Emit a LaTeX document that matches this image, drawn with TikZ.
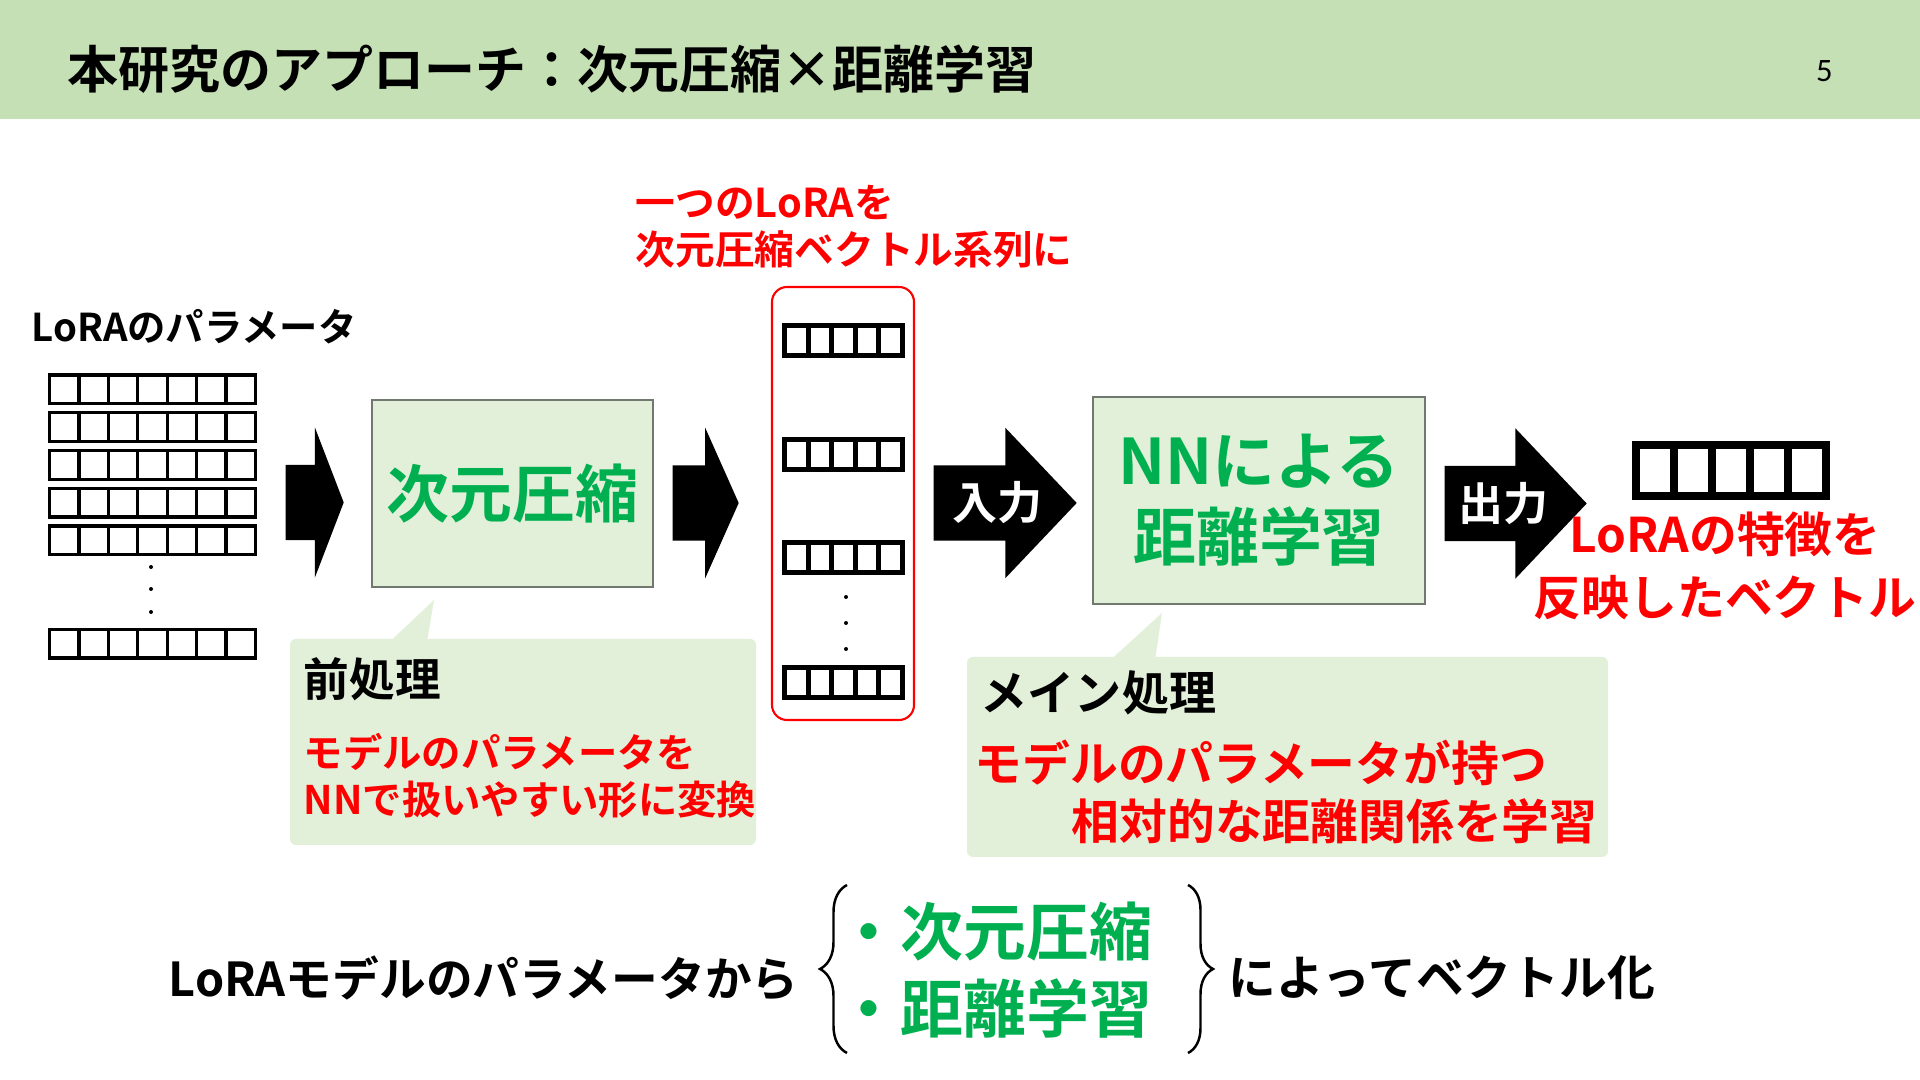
\documentclass[tikz,border=0pt]{standalone}
\usepackage{fontspec}
\setmainfont{Noto Sans CJK JP}[BoldFont={Noto Sans CJK JP Bold}]
\newfontfamily\pagefont{Carlito}
\usetikzlibrary{shapes.arrows,decorations.pathreplacing}
\definecolor{hdrgreen}{HTML}{C5E0B4}
\definecolor{palegreen}{HTML}{E2F0D9}
\definecolor{boxgray}{RGB}{112,120,112}
\definecolor{keygreen}{HTML}{00B050}
\definecolor{notered}{HTML}{FF0000}

\begin{document}
\begin{tikzpicture}[
    txt/.style={inner sep=0pt, anchor=west},
    procbox/.style={draw=boxgray, line width=0.6pt, fill=palegreen, text=keygreen, align=center,
      font=\bfseries\fontsize{17.9pt}{21.6pt}\selectfont},
    notebox/.style={fill=palegreen, rounded corners=0.06cm, inner sep=0pt},
    fatarrow/.style={single arrow, fill=black, inner xsep=0pt, inner ysep=0.37cm, anchor=tail,
      single arrow head extend=0.375cm},
    arrowtext/.style={inner sep=0pt, text=white, font=\bfseries\fontsize{12.8pt}{15pt}\selectfont},
    bigcell/.style={line width=0.95pt},
    midcell/.style={line width=1.4pt},
    outcell/.style={line width=2.3pt},
    curly/.style={decorate, line width=0.7pt}
  ]
  \useasboundingbox (0,0) rectangle (19.2,10.8);
  \fill[white] (0,0) rectangle (19.2,10.8);

  \fill[hdrgreen] (0,9.61) rectangle (19.2,10.8);
  \node[txt, font=\bfseries\fontsize{14.5pt}{17pt}\selectfont] (title) at (0.67,10.105) {本研究のアプローチ：次元圧縮×距離学習};
  \node[inner sep=0pt, font=\pagefont\fontsize{9.3pt}{11pt}\selectfont] (page) at (18.245,10.085) {5};

  \node[txt, font=\bfseries\fontsize{10.9pt}{13pt}\selectfont] (params) at (0.31,7.53) {LoRAのパラメータ};
  \foreach \yt in {7.05,6.672,6.295,5.918,5.54,4.506}
    \foreach \c in {0,...,6}
      \draw[bigcell] (0.497+\c*0.2937,\yt) rectangle ++(0.2937,-0.287);
  \foreach \yd in {5.13,4.91,4.68}
    \fill (1.51,\yd) circle (0.02);

  \node[fatarrow, single arrow tip angle=138, minimum height=0.58cm] (arrA) at (2.85,5.775) {};
  \node[procbox, minimum width=2.81cm, minimum height=1.87cm] (dimred) at (5.125,5.865) {次元圧縮};
  \node[fatarrow, single arrow tip angle=132, minimum height=0.66cm] (arrB) at (6.72,5.77) {};

  \node[notebox, minimum width=4.66cm, minimum height=2.06cm] (pre) at (5.23,3.38) {};
  \coordinate (preTip) at (4.34,4.80);
  \fill[palegreen] ([xshift=1.02cm,yshift=-0.02cm]pre.north west) -- (preTip)
    -- ([xshift=1.38cm,yshift=-0.02cm]pre.north west) -- cycle;
  \node[txt, font=\bfseries\fontsize{13pt}{15pt}\selectfont] (preHead) at (3.03,4.01) {前処理};
  \node[txt, align=left, text=notered, font=\bfseries\fontsize{11.2pt}{13.4pt}\selectfont] (preText) at (3.03,3.045)
    {モデルのパラメータを\\NNで扱いやすい形に変換};

  \node[txt, align=left, text=notered, font=\bfseries\fontsize{11.3pt}{13.4pt}\selectfont] (seqText) at (6.35,8.535)
    {一つのLoRAを\\次元圧縮ベクトル系列に};
  \draw[notered, line width=0.6pt, rounded corners=0.15cm] (7.72,7.93) rectangle (9.14,3.60);
  \foreach \yt in {7.545,6.405,5.375,4.125}
    \foreach \c in {0,...,4}
      \draw[midcell] (7.845+\c*0.236,\yt) rectangle ++(0.236,-0.30);
  \foreach \yd in {4.83,4.57,4.31}
    \fill (8.46,\yd) circle (0.02);

  \node[fatarrow, single arrow tip angle=93, minimum height=1.43cm] (arrIn) at (9.33,5.77) {};
  \node[arrowtext] (inLabel) at (9.97,5.77) {入力};
  \node[procbox, minimum width=3.32cm, minimum height=2.07cm] (metric) at (12.59,5.795) {NNによる\\距離学習};
  \node[fatarrow, single arrow tip angle=93, minimum height=1.42cm] (arrOut) at (14.44,5.765) {};
  \node[arrowtext] (outLabel) at (15.03,5.76) {出力};

  \node[notebox, minimum width=6.41cm, minimum height=2.00cm] (mainNote) at (12.875,3.23) {};
  \coordinate (mainTip) at (11.62,4.67);
  \fill[palegreen] ([xshift=1.46cm,yshift=-0.02cm]mainNote.north west) -- (mainTip)
    -- ([xshift=1.89cm,yshift=-0.02cm]mainNote.north west) -- cycle;
  \node[txt, font=\bfseries\fontsize{13.4pt}{16pt}\selectfont] (mainHead) at (9.80,3.87) {メイン処理};
  \node[txt, text=notered, font=\bfseries\fontsize{13.6pt}{16pt}\selectfont] (mainLineA) at (9.74,3.17) {モデルのパラメータが持つ};
  \node[txt, text=notered, font=\bfseries\fontsize{13.6pt}{16pt}\selectfont] (mainLineB) at (10.71,2.59) {相対的な距離関係を学習};

  \foreach \c in {0,...,4}
    \draw[outcell] (16.36+\c*0.38,6.35) rectangle ++(0.38,-0.51);
  \node[inner sep=0pt, align=center, text=notered, font=\bfseries\fontsize{13.6pt}{17.9pt}\selectfont] (outText) at (17.25,5.145)
    {LoRAの特徴を\\反映したベクトル};

  \node[txt, font=\bfseries\fontsize{13.3pt}{16pt}\selectfont] (lead) at (1.68,1.02) {LoRAモデルのパラメータから};
  \node[txt, align=left, text=keygreen, font=\bfseries\fontsize{17.9pt}{21.9pt}\selectfont] (keys) at (8.37,1.095)
    {・次元圧縮\\・距離学習};
  \draw[curly, decoration={brace, amplitude=0.27cm}] (8.47,0.27) -- (8.47,1.95);
  \draw[curly, decoration={brace, amplitude=0.25cm}] (11.88,1.95) -- (11.88,0.27);
  \node[txt, font=\bfseries\fontsize{13.6pt}{16pt}\selectfont] (tail) at (12.28,1.02) {によってベクトル化};
\end{tikzpicture}
\end{document}
